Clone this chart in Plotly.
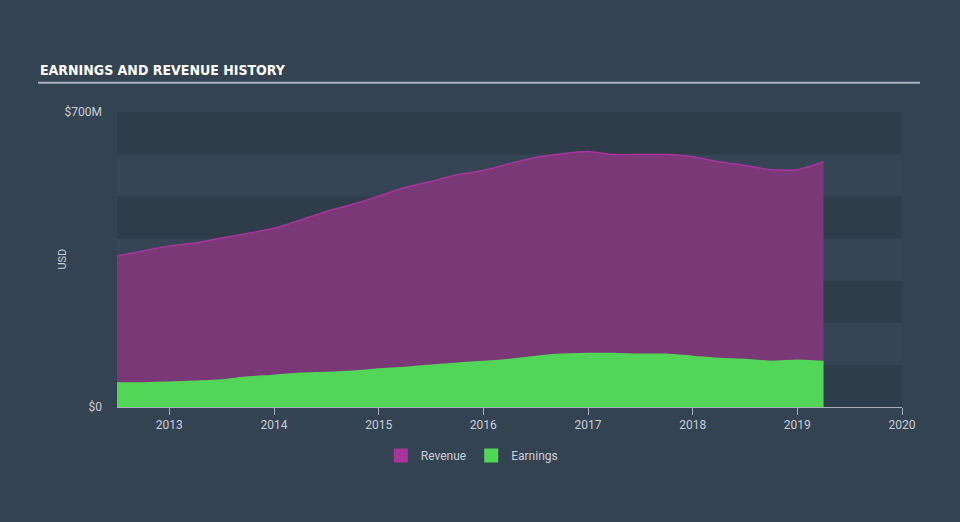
import plotly.graph_objects as go

# quarterly points, decimal years
years = [2012.5, 2012.75, 2013.0, 2013.25, 2013.5, 2013.75, 2014.0, 2014.25, 2014.5, 2014.75,
         2015.0, 2015.25, 2015.5, 2015.75, 2016.0, 2016.25, 2016.5, 2016.75, 2017.0, 2017.25,
         2017.5, 2017.75, 2018.0, 2018.25, 2018.5, 2018.75, 2019.0, 2019.25]
revenue = [358, 370, 382, 389, 401, 412, 424, 443, 464, 481,
           500, 521, 535, 551, 561, 577, 592, 601, 606, 599,
           599, 599, 594, 582, 573, 563, 563, 582]
earnings = [57, 57, 59, 61, 64, 71, 75, 80, 82, 85,
            90, 94, 99, 104, 108, 113, 120, 125, 127, 127,
            125, 125, 120, 115, 113, 108, 111, 108]
year_ticks = [2013, 2014, 2015, 2016, 2017, 2018, 2019, 2020]

bg = "#344352"
txt = "#c9ced6"
font_main = "Roboto"

fig = go.Figure()

# revenue in millions -> dollars
fig.add_trace(go.Scatter(x=years, y=[v * 1e6 for v in revenue], mode="lines", fill="tozeroy",
                         line=dict(color="#a8359b", width=1.5, shape="spline", smoothing=0.6),
                         fillcolor="#7b3877", showlegend=False, hoverinfo="skip"))
fig.add_trace(go.Scatter(x=years, y=[v * 1e6 for v in earnings], mode="lines", fill="tozeroy",
                         line=dict(color="#51d657", width=1.5, shape="spline", smoothing=0.6),
                         fillcolor="#51d657", showlegend=False, hoverinfo="skip"))

# legend entries
fig.add_trace(go.Scatter(x=[None], y=[None], mode="markers", name="Revenue",
                         marker=dict(symbol="square", size=14, color="#a8359b")))
fig.add_trace(go.Scatter(x=[None], y=[None], mode="markers", name="Earnings",
                         marker=dict(symbol="square", size=14, color="#51d657")))

# alternating horizontal bands
shapes = []
for i in range(7):
    shapes.append(dict(type="rect", xref="paper", yref="y", x0=0, x1=1,
                       y0=i * 100e6, y1=(i + 1) * 100e6, layer="below", line=dict(width=0),
                       fillcolor="#2f3c4a" if i % 2 == 0 else "#364555"))
# title underline
shapes.append(dict(type="line", xref="paper", yref="paper", x0=-0.1006, x1=1.0229,
                   y0=1.099, y1=1.099, line=dict(color="#aab0b8", width=2)))

fig.update_layout(
    width=960, height=522,
    paper_bgcolor=bg, plot_bgcolor=bg,
    margin=dict(l=117, r=58, t=112, b=115),
    shapes=shapes,
    font=dict(family=font_main, color=txt, size=12),
    annotations=[
        dict(text="<b>EARNINGS AND REVENUE HISTORY</b>", xref="paper", yref="paper",
             x=-0.1006, y=1.108, xanchor="left", yanchor="bottom", showarrow=False,
             font=dict(family="DejaVu Sans Condensed, Roboto", size=14, color="#ffffff")),
        dict(text="USD", xref="paper", yref="paper", x=-0.07, y=0.5, textangle=-90,
             xanchor="center", yanchor="middle", showarrow=False, font=dict(size=11, color=txt)),
    ],
    xaxis=dict(range=[2012.5, 2020], tickvals=year_ticks, ticktext=[str(y) for y in year_ticks],
               showgrid=False, zeroline=False, showline=True, linecolor="#aab0b8", linewidth=1,
               ticks="outside", ticklen=7, tickcolor="#aab0b8", tickfont=dict(size=12, color=txt)),
    yaxis=dict(range=[0, 700e6], tickvals=[0, 700e6], ticktext=["$0", "$700M"],
               showgrid=False, zeroline=False, showline=False, ticks="", ticklabelstandoff=14,
               tickfont=dict(size=12, color=txt)),
    legend=dict(orientation="h", x=0.452, xanchor="center", y=-0.115, yanchor="top",
                font=dict(size=12, color=txt), itemclick=False, itemwidth=30),
)

fig.write_html("out.html", config={"displayModeBar": False},
               post_script="document.body.style.margin='0';")
